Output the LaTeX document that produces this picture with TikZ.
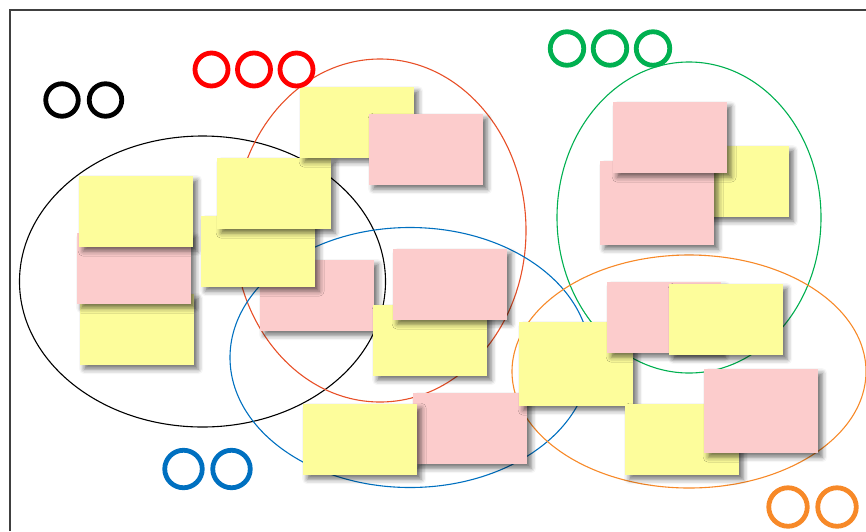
\documentclass[tikz,border=0pt]{standalone}
\usetikzlibrary{shadows.blur}

\definecolor{noteyellow}{RGB}{253,253,155}
\definecolor{notepink}{RGB}{252,204,204}
\definecolor{grpred}{RGB}{232,80,40}
\definecolor{ringred}{RGB}{255,0,0}
\definecolor{grpblue}{RGB}{0,112,192}
\definecolor{grpgreen}{RGB}{0,176,80}
\definecolor{grporange}{RGB}{247,137,40}
\definecolor{framegray}{RGB}{64,64,64}

\begin{document}
\begin{tikzpicture}[x=1pt,y=-1pt,
    group/.style={line width=1.1pt},
    ring/.style={circle,draw,line width=4.8pt,inner sep=0pt},
    note/.style={anchor=north west,inner sep=0pt,minimum width=114pt,
      blur shadow={shadow xshift=4pt,shadow yshift=-4pt,
        shadow blur radius=5pt,shadow opacity=55}}]
  \useasboundingbox (0,0) rectangle (866,531);
  \draw[framegray,line width=1.3pt] (10,531) -- (10,10) -- (866,10);

  % groups
  \draw[group,black]     (202.5,281.5) ellipse [x radius=183pt,y radius=145.5pt];
  \draw[group,grpred]    (380,230.5)   ellipse [x radius=146pt,y radius=171.5pt];
  \draw[group,grpblue]   (410,357.5)   ellipse [x radius=180pt,y radius=130pt];
  \draw[group,grpgreen]  (689,217.5)   ellipse [x radius=132pt,y radius=155.5pt];
  \draw[group,grporange] (689,371.5)   ellipse [x radius=177pt,y radius=116.5pt];

  % sticky notes, bottom to top
  \foreach \name/\col/\x/\y/\h in {
      y1/noteyellow/80/294/71,  p1/notepink/77/233/71,   y2/noteyellow/79/176/71,
      p2/notepink/260/260/71,   y3/noteyellow/201/216/71, y4/noteyellow/217/158/71,
      y5/noteyellow/300/87/71,  p3/notepink/369/114/71,
      y6/noteyellow/373/305/71, p4/notepink/393/249/71,
      p5/notepink/413/393/71,   y7/noteyellow/303/404/71,
      y8/noteyellow/675/146/71, p6/notepink/600/161/84,  p7/notepink/613/102/71,
      y9/noteyellow/519/322/84, p8/notepink/607/282/71,  y10/noteyellow/669/284/71,
      y11/noteyellow/625/404/71, p9/notepink/704/369/84}
    \node[note,fill=\col,minimum height=\h pt] (\name) at (\x,\y) {};

  % votes
  \foreach \name/\col/\x/\y/\d in {
      k1/black/62/100/32.5,     k2/black/105.5/100/32.5,
      r1/ringred/211.5/69.5/33, r2/ringred/254/69.5/33,    r3/ringred/296.5/69.5/33,
      g1/grpgreen/567/48.5/33.5, g2/grpgreen/610/48.5/33.5, g3/grpgreen/653/48.5/33.5,
      b1/grpblue/183.5/469/37.5, b2/grpblue/231.5/469/37.5,
      o1/grporange/788/507/38.5, o2/grporange/837/507/38.5}
    \node[ring,draw=\col,minimum size=\d pt] (\name) at (\x,\y) {};
\end{tikzpicture}
\end{document}
